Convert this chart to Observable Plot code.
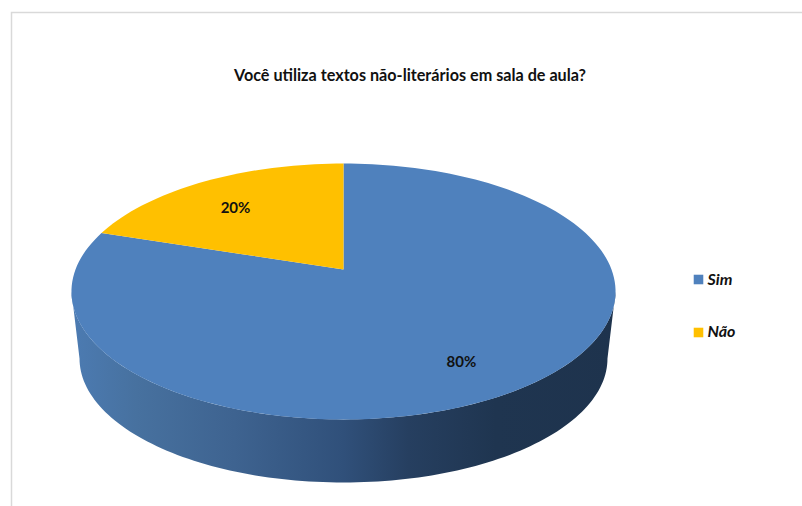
<!DOCTYPE html>
<html lang="pt">
<head>
<meta charset="utf-8">
<script src="https://cdn.jsdelivr.net/npm/d3@7"></script>
<script src="https://cdn.jsdelivr.net/npm/@observablehq/plot@0.6"></script>
<style>
  html, body { margin: 0; padding: 0; background: #fff; overflow: hidden; }
</style>
</head>
<body>
<div id="chart"></div>
<script>
// Survey answers
const categories = ["Sim", "Não"];
const shares = [80, 20];
const sliceColors = ["#4f81bd", "#ffc000"];
const chartTitle = "Você utiliza textos não-literários em sala de aula?";

// Label anchors in disc units
const labelX = [0.44, -0.403];
const labelY = [0.75, -0.49];

// Tilt of the disc: points nearer the viewer spread further apart
const tilt = -0.172;
const project = (u, v) => ({x: u / (1 + tilt * v), y: v / (1 + tilt * v)});

// Upper rim and lower rim of the disc edge, as ellipses in disc units
const upperRim = {cy: 0.177, rx: 1.015, ry: 1.03};
const lowerRim = {cy: 0.717, rx: 0.985, ry: 0.998};

// One closed outline per slice, running clockwise from twelve o'clock
const sliceOutline = (start, end) => {
  const steps = Math.max(2, Math.round((end - start) * 2));
  const points = [project(0, 0)];
  for (let i = 0; i <= steps; ++i) {
    const angle = ((start + (end - start) * i / steps) / 100) * 2 * Math.PI;
    points.push(project(Math.sin(angle), -Math.cos(angle)));
  }
  points.push(project(0, 0));
  return points;
};
const cumulative = d3.cumsum(shares);
const slices = categories.map((name, i) => ({
  name,
  color: sliceColors[i],
  points: sliceOutline(i ? cumulative[i - 1] : 0, cumulative[i])
}));

// Visible front wall of the disc: upper rim left to right, lower rim back again
const halfRim = (rim, reverse) => {
  const pts = d3.range(0, 121).map((i) => {
    const a = (i / 120) * Math.PI;
    return {x: -rim.rx * Math.cos(a), y: rim.cy + rim.ry * Math.sin(a)};
  });
  return reverse ? pts.reverse() : pts;
};
const wall = [...halfRim(upperRim, false), ...halfRim(lowerRim, true)];
wall.push(wall[0]);

const wallShade = () => {
  const defs = d3.create("svg:defs");
  const gradient = defs.append("linearGradient").attr("id", "wallShade");
  [[0, "#4c7bb2"], [0.12, "#47719f"], [0.3, "#3e6390"], [0.5, "#30507a"],
   [0.62, "#263f60"], [0.78, "#1f3550"], [1, "#1e334d"]].forEach(([offset, color]) => {
    gradient.append("stop").attr("offset", offset).attr("stop-color", color);
  });
  return defs.node();
};

const font = "Lato, 'Open Sans', sans-serif";

const chart = Plot.plot({
  width: 802,
  height: 506,
  margin: 0,
  x: {domain: [-1, 1], range: [75, 611], axis: null},
  y: {domain: [-1, 1], range: [144.8, 393.2], axis: null},
  style: {background: "#fff", fontFamily: font},
  marks: [
    wallShade,
    Plot.frame({stroke: "#d9d9d9", strokeWidth: 1.5, insetLeft: 11, insetTop: 12, insetRight: -6, insetBottom: -6}),
    Plot.line(wall, {x: "x", y: "y", fill: "url(#wallShade)", stroke: "none", curve: "linear"}),
    ...slices.map((s) =>
      Plot.line(s.points, {x: "x", y: "y", fill: s.color, stroke: "none", curve: "linear"})
    ),
    Plot.text(shares, {
      x: (d, i) => labelX[i],
      y: (d, i) => labelY[i],
      text: (d) => `${d}%`,
      fill: "#111",
      fontSize: 15,
      fontWeight: 700
    }),
    Plot.text([chartTitle], {
      frameAnchor: "top-left",
      dx: 409.5,
      dy: 75.5,
      lineAnchor: "middle",
      text: (d) => d,
      fill: "#111",
      fontSize: 16.2,
      fontWeight: 700,
      textAnchor: "middle"
    }),
    ...categories.flatMap((name, i) => [
      Plot.dot([name], {
        frameAnchor: "top-left",
        dx: 698,
        dy: 279 + 53 * i,
        symbol: "square",
        r: 5.4,
        fill: sliceColors[i],
        stroke: "none"
      }),
      Plot.text([name], {
        frameAnchor: "top-left",
        dx: 707,
        dy: 279 + 52 * i,
        lineAnchor: "middle",
        text: (d) => d,
        fill: "#111",
        fontSize: 16,
        fontWeight: 700,
        fontStyle: "italic",
        textAnchor: "start"
      })
    ])
  ]
});
document.getElementById("chart").append(chart);
</script>
</body>
</html>
